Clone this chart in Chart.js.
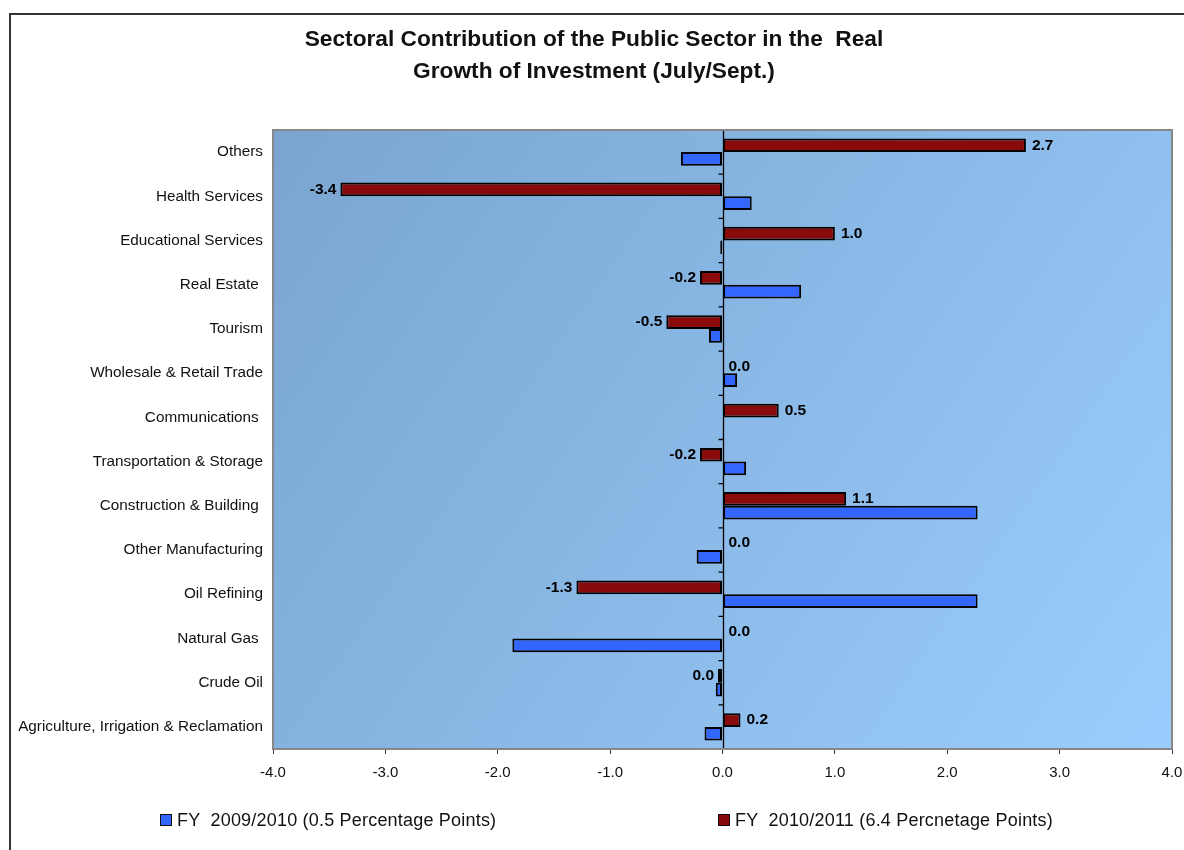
<!DOCTYPE html>
<html>
<head>
<meta charset="utf-8">
<script src="https://cdn.jsdelivr.net/npm/chart.js@4.4.1/dist/chart.umd.min.js"></script>
<style>
  body { margin: 0; background: #fff; }
  #wrap { position: relative; width: 1184px; height: 850px; overflow: hidden; }
  #legend { position: absolute; top: 810px; left: 0; width: 1184px; height: 26px;
            font: 18px "Liberation Sans", Arial, sans-serif; color: #111; }
  .item { position: absolute; top: 0; white-space: pre; letter-spacing: 0.2px; }
  .box { display: inline-block; width: 10px; height: 10px; border: 1px solid #111;
         margin-right: 5px; vertical-align: 0px; }
</style>
</head>
<body>
<div id="wrap">
  <canvas id="chart" width="1184" height="850"></canvas>
  <div id="legend"></div>
</div>
<script>
const sectors = [
    "Others",
    "Health Services",
    "Educational Services",
    "Real Estate ",
    "Tourism",
    "Wholesale & Retail Trade",
    "Communications ",
    "Transportation & Storage",
    "Construction & Building ",
    "Other Manufacturing",
    "Oil Refining",
    "Natural Gas ",
    "Crude Oil",
    "Agriculture, Irrigation & Reclamation"
];

// FY 2009/2010 contributions (blue)
const fy0910 = [-0.37, 0.26, -0.02, 0.70, -0.12, 0.13, 0, 0.21, 2.27, -0.23, 2.27, -1.87, -0.06, -0.16];
// FY 2010/2011 contributions (red, labelled)
const fy1011 = [2.7, -3.4, 1.0, -0.2, -0.5, 0, 0.5, -0.2, 1.1, 0, -1.3, 0, -0.04, 0.16];

const xTicks = [-4, -3, -2, -1, 0, 1, 2, 3, 4];

const titleLines = [
    "Sectoral Contribution of the Public Sector in the  Real",
    "Growth of Investment (July/Sept.)"
];
const legendLeft = [160, 718];

const FONT = "'Liberation Sans', Arial, sans-serif";

function fmt(v) {
    let s = v.toFixed(1);
    if (s === "-0.0") s = "0.0";
    return s;
}

// outer frame, plot background and the zero axis with its small ticks
const backdrop = {
    id: "backdrop",
    beforeDraw(chart) {
        const { ctx, chartArea: a } = chart;
        ctx.save();
        ctx.strokeStyle = "#333";
        ctx.lineWidth = 2;
        ctx.beginPath();
        ctx.moveTo(10, 850);
        ctx.lineTo(10, 14);
        ctx.lineTo(1184, 14);
        ctx.stroke();

        const g = ctx.createLinearGradient(a.left, a.top, a.right, a.bottom);
        g.addColorStop(0, "#7aa5d0");
        g.addColorStop(1, "#9acdfd");
        ctx.fillStyle = g;
        ctx.fillRect(a.left, a.top, a.right - a.left, a.bottom - a.top);
        ctx.restore();
    },
    beforeDatasetsDraw(chart) {
        const { ctx, chartArea: a, scales } = chart;
        const x0 = Math.round(scales.x.getPixelForValue(0)) + 0.5;
        ctx.save();
        ctx.strokeStyle = "#000";
        ctx.lineWidth = 1.3;
        ctx.beginPath();
        ctx.moveTo(x0, a.top);
        ctx.lineTo(x0, a.bottom);
        for (let i = 1; i < sectors.length; i++) {
            const y = (scales.y.getPixelForValue(i - 1) + scales.y.getPixelForValue(i)) / 2;
            ctx.moveTo(x0 - 5, y);
            ctx.lineTo(x0, y);
        }
        ctx.stroke();
        ctx.restore();
    },
    afterDatasetsDraw(chart) {
        const { ctx, chartArea: a } = chart;
        ctx.save();
        ctx.strokeStyle = "#888";
        ctx.lineWidth = 2;
        ctx.strokeRect(a.left, a.top, a.right - a.left, a.bottom - a.top);

        // value labels on the FY 2010/2011 bars
        const meta = chart.getDatasetMeta(0);
        ctx.font = "bold 15.5px " + FONT;
        ctx.fillStyle = "#000";
        ctx.textBaseline = "middle";
        meta.data.forEach((bar, i) => {
            const v = fy1011[i];
            if (v < 0) {
                ctx.textAlign = "right";
                ctx.fillText(fmt(v), bar.x - 4, bar.y);
            } else {
                ctx.textAlign = "left";
                ctx.fillText(fmt(v), bar.x + 6, bar.y);
            }
        });
        ctx.restore();
    }
};

const chart = new Chart(document.getElementById("chart"), {
    type: "bar",
    data: {
        labels: sectors,
        datasets: [
            {
                label: "FY  2010/2011 (6.4 Percnetage Points)",
                data: fy1011,
                backgroundColor: "#880a0a",
                borderColor: "#000",
                borderWidth: 2,
                borderSkipped: false
            },
            {
                label: "FY  2009/2010 (0.5 Percentage Points)",
                data: fy0910,
                backgroundColor: "#3366ff",
                borderColor: "#000",
                borderWidth: 2,
                borderSkipped: false
            }
        ]
    },
    options: {
        indexAxis: "y",
        responsive: false,
        animation: false,
        categoryPercentage: 0.62,
        barPercentage: 1.0,
        layout: { padding: { left: 16, right: 12, top: 0, bottom: 65 } },
        plugins: {
            legend: { display: false },
            tooltip: { enabled: false },
            title: {
                display: true,
                text: titleLines,
                color: "#111",
                font: { family: FONT, size: 22.7, weight: "bold", lineHeight: 32 / 22.7 },
                padding: { top: 24, bottom: 42 }
            }
        },
        scales: {
            x: {
                min: -4,
                max: 4,
                afterBuildTicks(scale) {
                    scale.ticks = xTicks.map(v => ({ value: v }));
                },
                afterFit(scale) {
                    scale.height = 36;
                    scale.paddingLeft = 0;
                    scale.paddingRight = 0;
                },
                grid: { drawOnChartArea: false, tickLength: 5, tickColor: "#333", lineWidth: 1 },
                border: { display: false },
                ticks: {
                    color: "#111",
                    padding: 10,
                    font: { family: FONT, size: 15 },
                    callback: v => Number(v).toFixed(1)
                }
            },
            y: {
                afterFit(scale) { scale.width = 257; },
                grid: { display: false },
                border: { display: false },
                ticks: {
                    color: "#111",
                    padding: 2,
                    font: { family: FONT, size: 15.3 }
                }
            }
        }
    },
    plugins: [backdrop]
});

// legend below the plot, FY 2009/2010 first
const legendEl = document.getElementById("legend");
[1, 0].forEach((di, k) => {
    const ds = chart.data.datasets[di];
    const item = document.createElement("span");
    item.className = "item";
    item.style.left = legendLeft[k] + "px";
    const box = document.createElement("span");
    box.className = "box";
    box.style.background = ds.backgroundColor;
    item.appendChild(box);
    item.appendChild(document.createTextNode(ds.label));
    legendEl.appendChild(item);
});
</script>
</body>
</html>
